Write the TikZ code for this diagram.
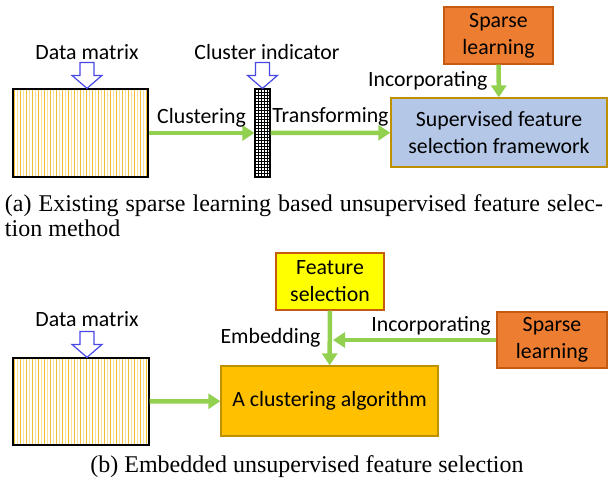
\documentclass[tikz,border=0pt]{standalone}
\usepackage{fontspec}
\setmainfont{Carlito}
\newfontfamily\captionfont{Liberation Serif}
\usetikzlibrary{arrows.meta,calc,positioning}
\definecolor{flowgreen}{RGB}{146,208,80}
\definecolor{hollowblue}{RGB}{72,72,230}
\definecolor{supblue}{RGB}{180,199,231}
\definecolor{sparseorange}{RGB}{237,125,49}
\definecolor{sparseedge}{RGB}{197,90,17}
\definecolor{algogold}{RGB}{255,192,0}
\definecolor{goldedge}{RGB}{191,144,0}
\definecolor{featyellow}{RGB}{255,255,0}
\definecolor{stripegold}{RGB}{242,190,50}
\definecolor{stripelight}{RGB}{250,225,150}

\tikzset{
  hollow arrow/.pic={
    \draw[draw=hollowblue,line width=1.2pt,fill=white,line join=miter]
      (0,0) -- (-15,-13) -- (-7,-13) -- (-7,-26) -- (7,-26) -- (7,-13) -- (15,-13) -- cycle;
  }
}

\begin{document}
\begin{tikzpicture}[x=1pt,y=-1pt,
		every node/.style={font=\fontsize{21.8}{27}\selectfont,inner sep=3pt},
		flow/.style={flowgreen,line width=4.5pt,-{Triangle[length=12pt,width=15pt]}},
		box/.style={draw,line width=1.3pt,align=center,inner sep=0pt},
		datamatrix/.style={draw,line width=1.2pt,fill=white,inner sep=0pt,
			path picture={
				\foreach \i in {0,2,...,44}
					\draw[stripegold,line width=1.5pt] ($(path picture bounding box.north west)+(1.5+3*\i,0)$) -- ++(0,100);
				\foreach \i in {1,3,...,43}
					\draw[stripelight,line width=1.5pt] ($(path picture bounding box.north west)+(1.5+3*\i,0)$) -- ++(0,100);
			}},
		indicator/.style={draw,line width=1.2pt,fill=white,inner sep=0pt,
			minimum width=15,minimum height=88,
			path picture={
				\foreach \k in {1,...,4}
					\draw[line width=0.5pt] ($(path picture bounding box.north west)+(3*\k,0)$) -- ++(0,100);
				\foreach \k in {1,...,29}
					\draw[line width=0.5pt] ($(path picture bounding box.north west)+(0,3*\k)$) -- ++(20,0);
			}},
		caption/.style={font=\captionfont\fontsize{24}{25}\selectfont,inner sep=0pt}]

		\useasboundingbox (0,0) rectangle (608,483);

		\node[datamatrix,minimum width=135,minimum height=88] (dm1) at (80.5,133) {};
		\node (dmlabel1) at (87,52) {Data matrix};
		\node[indicator] (ci) at (262.5,133) {};
		\node (cilabel) at (267,52) {Cluster indicator};
		\node[box,fill=supblue,draw=goldedge,minimum width=216,minimum height=69] (sup) at (499,132.5) {Supervised feature\\selection framework};
		\node[box,fill=sparseorange,draw=sparseedge,minimum width=109,minimum height=57] (sp1) at (498.5,35.5) {Sparse\\learning};

		\pic at (dmlabel1 |- dm1.north) {hollow arrow};
		\pic at (ci.north) {hollow arrow};
		\draw[flow] (dm1) -- node[above=1pt,black]{Clustering} (ci);
		\draw[flow] (ci) -- node[above=1pt,black]{Transforming} (sup);
		\draw[flow] (sp1) -- node[left=6pt,black]{Incorporating} (sup);

		\node[caption,align=left] (capa) at (304,215.5) {\makebox[598pt][s]{(a) Existing sparse learning based unsupervised feature selec-}\\tion method};

		\node[datamatrix,minimum width=136,minimum height=87] (dm2) at (81,401.5) {};
		\node (dmlabel2) at (87,319) {Data matrix};
		\node[box,fill=algogold,draw=goldedge,minimum width=217,minimum height=70] (algo) at (329.5,401) {A clustering algorithm};
		\node[box,fill=featyellow,draw=sparseedge,minimum width=108,minimum height=57] (feat) at (330,281.5) {Feature\\selection};
		\node[box,fill=sparseorange,draw=sparseedge,minimum width=110,minimum height=56] (sp2) at (552,340) {Sparse\\learning};
		\coordinate (join) at ($(feat.south |- sp2.west)+(3,0)$);

		\pic at (dmlabel2 |- dm2.north) {hollow arrow};
		\draw[flow] (dm2) -- (algo);
		\draw[flow] (feat) -- node[left=4pt,black]{Embedding} (algo);
		\draw[flow] (sp2) -- node[above,pos=0.4,black]{Incorporating} (join);

		\node[caption] (capb) at (307,467) {(b) Embedded unsupervised feature selection};

\end{tikzpicture}
\end{document}
